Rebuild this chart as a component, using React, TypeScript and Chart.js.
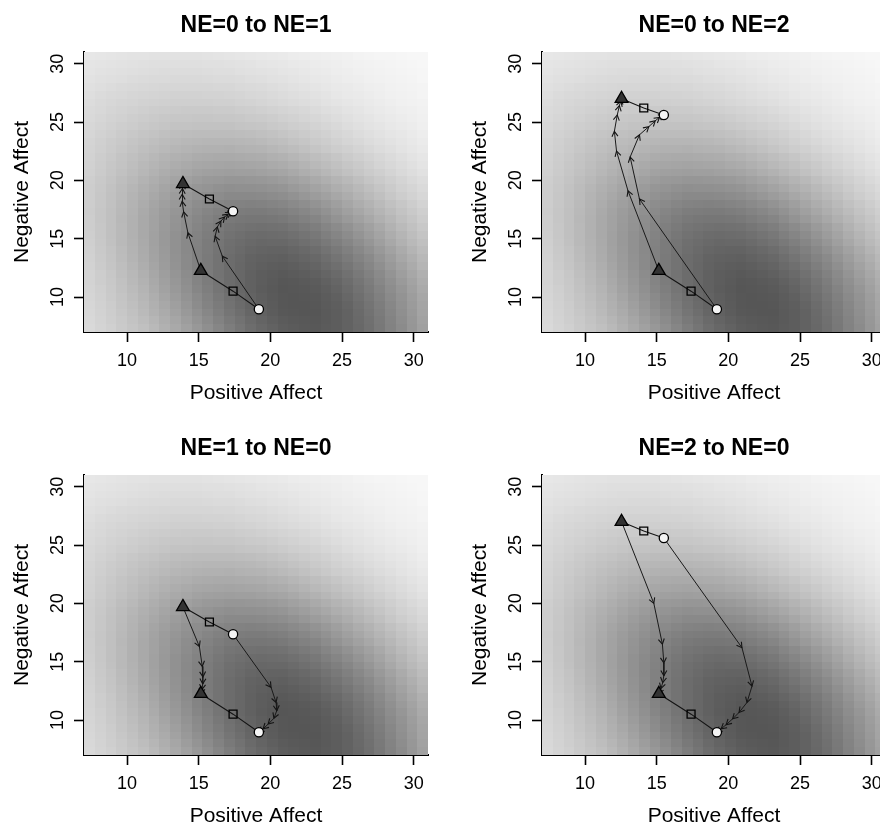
import React, { useEffect, useRef } from "react";
import { Chart, registerables } from "chart.js";

Chart.register(...registerables);

const FONT = "'Liberation Sans', Arial, Helvetica, sans-serif";

// axes
const AXIS_MIN = 7;
const AXIS_MAX = 31;
const X_TICKS = [10, 15, 20, 25, 30];
const Y_TICKS = [10, 15, 20, 25, 30];
const X_LABEL = "Positive Affect";
const Y_LABEL = "Negative Affect";

// background landscape (gray level read at grid nodes)
const SHADE_X = [7, 9, 11, 13, 15, 17, 19, 21, 23, 25, 27, 29, 31];
const SHADE_Y = [31, 29, 27, 25, 23, 21, 19, 17, 15, 13, 11, 9, 7];
const SHADE = [
  [233, 230, 228, 227, 228, 230, 233, 236, 239, 242, 245, 247, 248],
  [228, 224, 221, 219, 219, 221, 224, 228, 233, 237, 241, 244, 247],
  [222, 216, 212, 209, 209, 210, 214, 219, 225, 231, 236, 241, 244],
  [218, 210, 203, 198, 196, 197, 200, 206, 213, 221, 229, 235, 241],
  [214, 203, 193, 185, 180, 179, 182, 189, 199, 209, 219, 228, 236],
  [211, 198, 185, 173, 164, 161, 163, 169, 181, 193, 206, 218, 229],
  [208, 193, 176, 160, 147, 140, 140, 146, 158, 173, 190, 206, 219],
  [208, 191, 171, 152, 135, 123, 119, 124, 135, 153, 172, 192, 209],
  [210, 192, 171, 149, 129, 113, 105, 106, 116, 133, 154, 178, 198],
  [213, 196, 175, 151, 128, 109, 96, 93, 101, 116, 137, 163, 187],
  [215, 200, 181, 157, 132, 110, 94, 86, 90, 103, 125, 150, 176],
  [218, 204, 187, 166, 141, 117, 98, 87, 86, 95, 116, 142, 170],
  [220, 208, 195, 176, 154, 129, 108, 94, 89, 95, 112, 137, 165],
];

// equilibria: circle, square, triangle
const EQ_NE0 = [
  { x: 19.2, y: 8.95 },
  { x: 17.4, y: 10.5 },
  { x: 15.15, y: 12.25 },
];
const EQ_NE1 = [
  { x: 17.4, y: 17.35 },
  { x: 15.75, y: 18.4 },
  { x: 13.9, y: 19.7 },
];
const EQ_NE2 = [
  { x: 15.5, y: 25.6 },
  { x: 14.1, y: 26.2 },
  { x: 12.55, y: 27.0 },
];
const MARKER_STYLES = ["circle", "rect", "triangle"];

// trajectories
const TRAJ_01_TRI = [
  { x: 15.15, y: 12.25 }, { x: 14.25, y: 15.5 }, { x: 13.95, y: 17.3 }, { x: 13.85, y: 18.2 },
  { x: 13.85, y: 18.8 }, { x: 13.87, y: 19.3 }, { x: 13.9, y: 19.7 },
];
const TRAJ_01_CIR = [
  { x: 19.2, y: 8.95 }, { x: 16.65, y: 13.5 }, { x: 16.15, y: 15.2 }, { x: 16.3, y: 16.0 },
  { x: 16.55, y: 16.5 }, { x: 16.8, y: 16.85 }, { x: 17.05, y: 17.1 }, { x: 17.25, y: 17.25 },
  { x: 17.4, y: 17.35 },
];
const TRAJ_02_TRI = [
  { x: 15.15, y: 12.25 }, { x: 13.0, y: 19.1 }, { x: 12.2, y: 22.5 }, { x: 12.05, y: 24.2 },
  { x: 12.25, y: 25.6 }, { x: 12.4, y: 26.4 }, { x: 12.5, y: 26.8 }, { x: 12.55, y: 27.0 },
];
const TRAJ_02_CIR = [
  { x: 19.2, y: 8.95 }, { x: 13.8, y: 18.4 }, { x: 13.15, y: 22.0 }, { x: 13.8, y: 23.9 },
  { x: 14.45, y: 24.6 }, { x: 14.9, y: 25.1 }, { x: 15.2, y: 25.4 }, { x: 15.5, y: 25.6 },
];
const TRAJ_10_TRI = [
  { x: 13.9, y: 19.7 }, { x: 15.05, y: 16.3 }, { x: 15.25, y: 14.6 }, { x: 15.3, y: 13.7 },
  { x: 15.28, y: 13.1 }, { x: 15.22, y: 12.6 }, { x: 15.15, y: 12.25 },
];
const TRAJ_10_CIR = [
  { x: 17.4, y: 17.35 }, { x: 20.05, y: 12.8 }, { x: 20.4, y: 11.5 }, { x: 20.45, y: 10.8 },
  { x: 20.25, y: 10.15 }, { x: 19.85, y: 9.65 }, { x: 19.5, y: 9.25 }, { x: 19.2, y: 8.95 },
];
const TRAJ_20_TRI = [
  { x: 12.55, y: 27.0 }, { x: 14.8, y: 20.0 }, { x: 15.4, y: 16.5 }, { x: 15.5, y: 14.9 },
  { x: 15.5, y: 13.8 }, { x: 15.42, y: 13.2 }, { x: 15.3, y: 12.7 }, { x: 15.15, y: 12.25 },
];
const TRAJ_20_CIR = [
  { x: 15.5, y: 25.6 }, { x: 20.95, y: 16.2 }, { x: 21.65, y: 12.9 }, { x: 21.3, y: 11.5 },
  { x: 20.75, y: 10.65 }, { x: 20.3, y: 10.1 }, { x: 19.85, y: 9.6 }, { x: 19.5, y: 9.25 },
  { x: 19.2, y: 8.95 },
];

const PANEL_TITLES = ["NE=0 to NE=1", "NE=0 to NE=2", "NE=1 to NE=0", "NE=2 to NE=0"];
const PANEL_EQ = [
  [EQ_NE0, EQ_NE1],
  [EQ_NE0, EQ_NE2],
  [EQ_NE1, EQ_NE0],
  [EQ_NE2, EQ_NE0],
];
const PANEL_TRAJ = [
  [TRAJ_01_TRI, TRAJ_01_CIR],
  [TRAJ_02_TRI, TRAJ_02_CIR],
  [TRAJ_10_TRI, TRAJ_10_CIR],
  [TRAJ_20_TRI, TRAJ_20_CIR],
];

const shadePlugin = {
  id: "shadeLandscape",
  beforeDatasetsDraw(chart: any) {
    const { ctx, chartArea, scales } = chart;
    const xs = scales.x;
    const ys = scales.y;
    const nx = SHADE_X.length;
    const ny = SHADE_Y.length;
    const src = document.createElement("canvas");
    src.width = nx;
    src.height = ny;
    const sctx = src.getContext("2d")!;
    const img = sctx.createImageData(nx, ny);
    for (let j = 0; j < ny; j++) {
      for (let i = 0; i < nx; i++) {
        const g = SHADE[j][i];
        const k = (j * nx + i) * 4;
        img.data[k] = g;
        img.data[k + 1] = g;
        img.data[k + 2] = g;
        img.data[k + 3] = 255;
      }
    }
    sctx.putImageData(img, 0, 0);
    const bw = 32;
    const bh = 36;
    const mid = document.createElement("canvas");
    mid.width = bw;
    mid.height = bh;
    const mctx = mid.getContext("2d")!;
    mctx.imageSmoothingEnabled = true;
    const stepX = SHADE_X[1] - SHADE_X[0];
    const stepY = SHADE_Y[0] - SHADE_Y[1];
    const x0 = SHADE_X[0] - stepX / 2;
    const x1 = SHADE_X[nx - 1] + stepX / 2;
    const yT = SHADE_Y[0] + stepY / 2;
    const yB = SHADE_Y[ny - 1] - stepY / 2;
    const range = AXIS_MAX - AXIS_MIN;
    const ux = bw / range;
    const uy = bh / range;
    mctx.drawImage(src, (x0 - AXIS_MIN) * ux, (AXIS_MAX - yT) * uy, (x1 - x0) * ux, (yT - yB) * uy);
    const left = xs.getPixelForValue(AXIS_MIN);
    const right = xs.getPixelForValue(AXIS_MAX);
    const top = ys.getPixelForValue(AXIS_MAX);
    const bottom = ys.getPixelForValue(AXIS_MIN);
    ctx.save();
    ctx.beginPath();
    ctx.rect(chartArea.left, chartArea.top, chartArea.right - chartArea.left, chartArea.bottom - chartArea.top);
    ctx.clip();
    ctx.imageSmoothingEnabled = false;
    ctx.drawImage(mid, left, top, right - left, bottom - top);
    ctx.restore();
  },
};

const arrowPlugin = {
  id: "trajArrows",
  afterDatasetDraw(chart: any, args: any) {
    const ds = chart.data.datasets[args.index];
    if (!ds.arrowHeads) return;
    const pts = args.meta.data;
    const ctx = chart.ctx;
    ctx.save();
    ctx.strokeStyle = "#141414";
    ctx.lineWidth = 1.1;
    const L = 6;
    const spread = Math.PI / 6;
    for (let i = 1; i < pts.length; i++) {
      const a = pts[i - 1];
      const b = pts[i];
      const ang = Math.atan2(b.y - a.y, b.x - a.x);
      ctx.beginPath();
      ctx.moveTo(b.x - L * Math.cos(ang - spread), b.y - L * Math.sin(ang - spread));
      ctx.lineTo(b.x, b.y);
      ctx.lineTo(b.x - L * Math.cos(ang + spread), b.y - L * Math.sin(ang + spread));
      ctx.stroke();
    }
    ctx.restore();
  },
};

function eqDataset(data: any[]) {
  const styles = data.map((_, i) => MARKER_STYLES[i % 3]);
  return {
    data,
    showLine: true,
    borderColor: "#141414",
    borderWidth: 1.1,
    pointStyle: styles,
    pointRadius: styles.map((s) => (s === "circle" ? 4.6 : s === "rect" ? 5.6 : 7.4)),
    pointBackgroundColor: styles.map((s) =>
      s === "circle" ? "#f4f4f4" : s === "rect" ? "rgba(0,0,0,0)" : "#333333"
    ),
    pointBorderColor: "#000",
    pointBorderWidth: 1.3,
  };
}

function trajDataset(data: any[]) {
  return {
    data,
    showLine: true,
    borderColor: "#1a1a1a",
    borderWidth: 1,
    pointRadius: 0,
    arrowHeads: true,
  };
}

function Panel({ idx, left, top }: { idx: number; left: number; top: number }) {
  const ref = useRef<HTMLCanvasElement | null>(null);
  useEffect(() => {
    if (!ref.current) return;
    const [eqA, eqB] = PANEL_EQ[idx];
    const [trA, trB] = PANEL_TRAJ[idx];
    const chart = new Chart(ref.current, {
      type: "scatter",
      data: {
        datasets: [eqDataset(eqA), eqDataset(eqB), trajDataset(trA), trajDataset(trB)] as any,
      },
      plugins: [shadePlugin, arrowPlugin],
      options: {
        responsive: false,
        animation: false,
        events: [],
        layout: { padding: { left: 0, right: 12, top: 0, bottom: 0 } },
        plugins: {
          legend: { display: false },
          tooltip: { enabled: false },
          title: {
            display: true,
            fullSize: false,
            text: PANEL_TITLES[idx],
            color: "#000",
            font: { family: FONT, size: 23, weight: "bold" },
            padding: { top: 12, bottom: 12.4 },
          },
        },
        scales: {
          x: {
            type: "linear",
            min: AXIS_MIN,
            max: AXIS_MAX,
            afterBuildTicks: (s: any) => {
              s.ticks = X_TICKS.map((v) => ({ value: v }));
            },
            afterFit: (s: any) => {
              s.height = 80;
            },
            grid: {
              display: true,
              drawOnChartArea: false,
              drawTicks: true,
              tickLength: 10,
              tickColor: "#000",
              tickWidth: 1.6,
              color: "#000",
            },
            border: { display: true, color: "#000", width: 2 },
            ticks: {
              color: "#000",
              font: { family: FONT, size: 18 },
              padding: 8,
              maxRotation: 0,
              autoSkip: false,
            },
            title: {
              display: true,
              text: X_LABEL,
              color: "#000",
              font: { family: FONT, size: 21 },
              padding: { top: 0, bottom: 6 },
            },
          },
          y: {
            type: "linear",
            min: AXIS_MIN,
            max: AXIS_MAX,
            afterBuildTicks: (s: any) => {
              s.ticks = Y_TICKS.map((v) => ({ value: v }));
            },
            afterFit: (s: any) => {
              s.width = 84;
            },
            grid: {
              display: true,
              drawOnChartArea: false,
              drawTicks: true,
              tickLength: 10,
              tickColor: "#000",
              tickWidth: 1.6,
              color: "#000",
            },
            border: { display: true, color: "#000", width: 2 },
            ticks: {
              color: "#000",
              font: { family: FONT, size: 18 },
              padding: 6,
              minRotation: 90,
              maxRotation: 90,
              crossAlign: "center",
              autoSkip: false,
            },
            title: {
              display: true,
              text: Y_LABEL,
              color: "#000",
              font: { family: FONT, size: 21 },
              padding: { top: 10, bottom: 0 },
            },
          },
        },
      } as any,
    });
    return () => chart.destroy();
  }, [idx]);
  return (
    <canvas
      ref={ref}
      width={440}
      height={412}
      style={{ position: "absolute", left, top, width: 440, height: 412 }}
    />
  );
}

const PANEL_LEFT = [0, 458, 0, 458];
const PANEL_TOP = [0, 0, 423, 423];

export default function App() {
  return (
    <div
      style={{
        position: "absolute",
        left: 0,
        top: 0,
        width: 880,
        height: 825,
        overflow: "hidden",
        background: "#fff",
      }}
    >
      {PANEL_TITLES.map((_, i) => (
        <Panel key={i} idx={i} left={PANEL_LEFT[i]} top={PANEL_TOP[i]} />
      ))}
    </div>
  );
}
